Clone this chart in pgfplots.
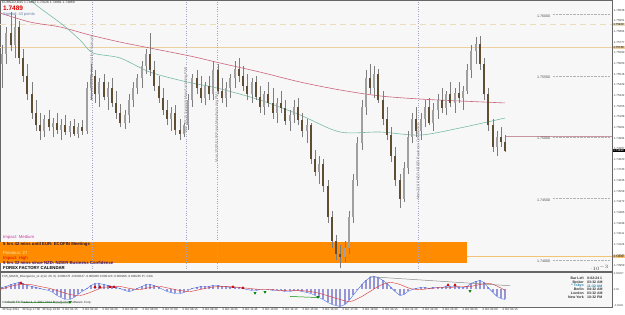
\documentclass[border=0pt]{standalone}
\usepackage{fontspec}
\setmainfont{Liberation Sans}
\usepackage{pgfplots}
\pgfplotsset{compat=1.18}
\usepackage{pgfplotstable}

\definecolor{candup}{RGB}{160,160,160}
\definecolor{canddown}{RGB}{95,78,52}
\definecolor{wick}{RGB}{125,125,125}
\definecolor{maRed}{RGB}{205,100,125}
\definecolor{maTeal}{RGB}{120,190,165}
\definecolor{calOrange}{RGB}{255,140,0}
\definecolor{tanDash}{RGB}{235,222,190}
\definecolor{tanSolid}{RGB}{238,208,160}
\definecolor{pinkLine}{RGB}{200,150,160}
\definecolor{oraLine}{RGB}{245,195,120}
\definecolor{histBlue}{RGB}{150,150,215}
\definecolor{macdBlue}{RGB}{70,110,230}
\definecolor{sigRed}{RGB}{220,60,60}
\definecolor{newsLine}{RGB}{165,165,200}
\definecolor{bg}{RGB}{247,247,247}
\newcommand{\fs}[1]{\fontsize{#1}{#1}\selectfont}

\pgfplotstableread{
x o h l c m
2 1.7560 1.7575 1.7540 1.7568 0.00032
6 1.7568 1.7590 1.7560 1.7585 0.00048
11 1.7585 1.7602 1.7570 1.7575 0.0008
15 1.7575 1.7600 1.7565 1.7590 0.00096
19 1.7590 1.7595 1.7560 1.7565 0.00112
23 1.7565 1.7572 1.7545 1.7550 0.00096
27 1.7550 1.7560 1.7530 1.7535 0.00064
32 1.7535 1.7545 1.7515 1.7520 0.00048
36 1.7520 1.7530 1.7505 1.7510 0.00032
40 1.7510 1.7520 1.7498 1.7505 0.00016
44 1.7505 1.7518 1.7500 1.7515 0
49 1.7515 1.7522 1.7505 1.7508 -0.00016
53 1.7508 1.7516 1.7500 1.7512 -0.00048
57 1.7512 1.7520 1.7503 1.7506 -0.00096
61 1.7506 1.7515 1.7498 1.7510 -0.00128
65 1.7510 1.7518 1.7502 1.7504 -0.0016
70 1.7504 1.7513 1.7500 1.7509 -0.0016
74 1.7509 1.7515 1.7501 1.7503 -0.00128
78 1.7503 1.7512 1.7499 1.7508 -0.0008
82 1.7508 1.7514 1.7502 1.7505 -0.00032
87 1.7505 1.7545 1.7503 1.7540 0.00016
91 1.7540 1.7560 1.7530 1.7550 0.00064
95 1.7550 1.7555 1.7528 1.7535 0.00096
99 1.7535 1.7548 1.7525 1.7545 0.00096
104 1.7545 1.7552 1.7530 1.7533 0.0008
108 1.7533 1.7545 1.7522 1.7540 0.00064
112 1.7540 1.7548 1.7525 1.7528 0.00048
116 1.7528 1.7538 1.7515 1.7520 0.00032
120 1.7520 1.7527 1.7508 1.7512 0.00016
125 1.7512 1.7522 1.7507 1.7518 -0.00016
129 1.7518 1.7535 1.7512 1.7530 -0.00032
133 1.7530 1.7545 1.7525 1.7540 -0.00016
137 1.7540 1.7552 1.7535 1.7548 0.00016
142 1.7548 1.7562 1.7540 1.7558 0.00048
146 1.7558 1.7572 1.7552 1.7568 0.0008
150 1.7568 1.7585 1.7550 1.7555 0.0008
154 1.7555 1.7562 1.7538 1.7542 0.00064
159 1.7542 1.7550 1.7528 1.7532 0.00032
163 1.7532 1.7540 1.7518 1.7522 0
167 1.7522 1.7530 1.7510 1.7515 -0.00032
171 1.7515 1.7525 1.7505 1.7520 -0.00048
175 1.7520 1.7526 1.7502 1.7506 -0.00064
180 1.7506 1.7515 1.7498 1.7503 -0.00064
184 1.7503 1.7512 1.7500 1.7510 -0.00048
188 1.7510 1.7535 1.7506 1.7530 -0.00016
192 1.7530 1.7552 1.7525 1.7548 0.00016
197 1.7548 1.7555 1.7535 1.7540 0.00032
201 1.7540 1.7550 1.7528 1.7532 0.00048
205 1.7532 1.7545 1.7526 1.7542 0.00048
209 1.7542 1.7550 1.7530 1.7535 0.00048
213 1.7535 1.7562 1.7530 1.7555 0.00064
218 1.7555 1.7560 1.7535 1.7538 0.00064
222 1.7538 1.7548 1.7528 1.7532 0.00048
226 1.7532 1.7545 1.7525 1.7540 0.00048
230 1.7540 1.7552 1.7532 1.7548 0.00032
235 1.7548 1.7562 1.7540 1.7556 0.00032
239 1.7556 1.7565 1.7545 1.7550 0.00032
243 1.7550 1.7558 1.7538 1.7542 0.00016
247 1.7542 1.7552 1.7530 1.7535 0
252 1.7535 1.7548 1.7528 1.7545 -0.00016
256 1.7545 1.7550 1.7530 1.7533 -0.00016
260 1.7533 1.7542 1.7520 1.7525 0
264 1.7525 1.7538 1.7518 1.7535 0
268 1.7535 1.7545 1.7525 1.7528 0
273 1.7528 1.7540 1.7515 1.7520 -0.00016
277 1.7520 1.7532 1.7512 1.7528 -0.00016
281 1.7528 1.7538 1.7520 1.7524 -0.00016
285 1.7524 1.7530 1.7510 1.7513 -0.00032
290 1.7513 1.7522 1.7505 1.7518 -0.00032
294 1.7518 1.7530 1.7512 1.7525 -0.00016
298 1.7525 1.7532 1.7510 1.7514 -0.00016
302 1.7514 1.7520 1.7500 1.7505 -0.00032
307 1.7505 1.7515 1.7495 1.7510 -0.00048
311 1.7510 1.7512 1.7478 1.7482 -0.00064
315 1.7482 1.7490 1.7468 1.7472 -0.00096
319 1.7472 1.7485 1.7462 1.7478 -0.00128
323 1.7478 1.7482 1.7455 1.7460 -0.0016
328 1.7460 1.7465 1.7430 1.7435 -0.00208
332 1.7435 1.7440 1.7410 1.7415 -0.0024
336 1.7415 1.7420 1.7400 1.7405 -0.00256
340 1.7405 1.7412 1.7393 1.7402 -0.00272
345 1.7402 1.7415 1.7398 1.7410 -0.0024
349 1.7410 1.7440 1.7405 1.7435 -0.00176
353 1.7435 1.7470 1.7430 1.7465 -0.00096
357 1.7465 1.7500 1.7460 1.7495 -0.00016
362 1.7495 1.7530 1.7490 1.7525 0.0008
366 1.7525 1.7555 1.7518 1.7548 0.00144
370 1.7548 1.7560 1.7535 1.7540 0.00192
374 1.7540 1.7558 1.7532 1.7552 0.00208
378 1.7552 1.7556 1.7528 1.7530 0.00192
383 1.7530 1.7538 1.7510 1.7515 0.00144
387 1.7515 1.7525 1.7498 1.7502 0.00096
391 1.7502 1.7508 1.7480 1.7485 0.00032
395 1.7485 1.7492 1.7460 1.7465 -0.00032
400 1.7465 1.7470 1.7442 1.7450 -0.00096
404 1.7450 1.7480 1.7447 1.7475 -0.0008
408 1.7475 1.7505 1.7470 1.7500 -0.00032
412 1.7500 1.7520 1.7495 1.7515 0
416 1.7515 1.7525 1.7500 1.7505 0.00016
421 1.7505 1.7520 1.7498 1.7515 0.00032
425 1.7515 1.7530 1.7508 1.7525 0.00032
429 1.7525 1.7532 1.7510 1.7512 0.00016
433 1.7512 1.7528 1.7505 1.7522 0.00032
438 1.7522 1.7535 1.7515 1.7530 0.00032
442 1.7530 1.7540 1.7520 1.7524 0.00032
446 1.7524 1.7538 1.7518 1.7535 0.00048
450 1.7535 1.7545 1.7525 1.7528 0.00048
455 1.7528 1.7540 1.7520 1.7536 0.00048
459 1.7536 1.7545 1.7528 1.7532 0.00032
463 1.7532 1.7542 1.7522 1.7538 0.00032
467 1.7538 1.7560 1.7535 1.7555 0.00048
471 1.7555 1.7575 1.7548 1.7570 0.00096
476 1.7570 1.7582 1.7560 1.7576 0.00128
480 1.7576 1.7583 1.7555 1.7560 0.00144
484 1.7560 1.7565 1.7530 1.7535 0.00112
488 1.7535 1.7540 1.7505 1.7510 0.00032
493 1.7510 1.7515 1.7488 1.7492 -0.00048
497 1.7492 1.7505 1.7485 1.7500 -0.00112
501 1.7500 1.7508 1.7492 1.7496 -0.00144
505 1.7496 1.7502 1.7488 1.7489 -0.0016
}\candles

\begin{document}
\begin{tikzpicture}
\useasboundingbox (0pt,0pt) rectangle (625pt,315pt);
\fill[white] (0pt,0pt) rectangle (625pt,315pt);
\fill[bg] (0pt,44pt) rectangle (612pt,315pt);
\fill[bg] (0pt,8pt) rectangle (612pt,43pt);
\begin{scope}
\clip (0pt,0pt) rectangle (625pt,315pt);
% ---------------- main price panel ----------------
\begin{axis}[
  at={(0pt,44pt)}, anchor=south west, scale only axis,
  width=612pt, height=271pt,
  xmin=0, xmax=612, ymin=1.73909, ymax=1.7612,
  clip mode=individual,
  axis line style={draw=black!60, line width=0.4pt},
  xtick=\empty,
  ytick={1.76038,1.75951,1.75864,1.75777,1.75690,1.75603,1.75516,1.75429,1.75342,1.75255,1.75168,1.75081,1.74994,1.74907,1.74820,1.74733,1.74646,1.74559,1.74472,1.74385,1.74298,1.74211,1.74124,1.74037,1.73950},
  ytick pos=right, yticklabel pos=right,
  tick align=outside, major tick length=1.3pt,
  tick style={black!60, line width=0.3pt},
  scaled y ticks=false,
  /pgf/number format/fixed, /pgf/number format/precision=5,
  /pgf/number format/fixed zerofill, /pgf/number format/assume math mode=true,
  yticklabel style={font=\fs{2.9}, text=black!75, inner sep=0.5pt},
]
% calendar box
\addplot[fill=calOrange, draw=none] coordinates {(0,1.73974) (467,1.73974) (467,1.74145) (0,1.74145)} -- cycle;
% horizontal levels
\addplot[tanDash, line width=0.9pt, dash pattern=on 6pt off 4pt] coordinates {(0,1.7592) (612,1.7592)};
\addplot[tanSolid, line width=0.7pt] coordinates {(0,1.7573) (612,1.7573)};
\addplot[pinkLine, line width=0.6pt] coordinates {(505,1.7501) (612,1.7501)};
\addplot[oraLine, line width=0.6pt] coordinates {(467,1.7403) (612,1.7403)};
\addplot[black!30, densely dotted, line width=0.4pt] coordinates {(553,1.7600) (610,1.7600)};
\addplot[black!30, densely dotted, line width=0.4pt] coordinates {(553,1.7550) (610,1.7550)};
\addplot[black!30, densely dotted, line width=0.4pt] coordinates {(553,1.7500) (610,1.7500)};
\addplot[black!30, densely dotted, line width=0.4pt] coordinates {(553,1.7450) (610,1.7450)};
\addplot[black!30, densely dotted, line width=0.4pt] coordinates {(553,1.7400) (610,1.7400)};
% news lines
\addplot[newsLine, dotted, line width=0.4pt] coordinates {(92,1.73909) (92,1.7612)};
\addplot[newsLine, dotted, line width=0.4pt] coordinates {(186,1.73909) (186,1.7612)};
\addplot[newsLine, dotted, line width=0.4pt] coordinates {(217,1.73909) (217,1.7612)};
\addplot[newsLine, dotted, line width=0.4pt] coordinates {(418,1.73909) (418,1.7612)};
% moving averages
\addplot[maRed, line width=0.6pt, smooth] coordinates {(0,1.76014) (30,1.7594) (60,1.7590) (90,1.75834) (120,1.75777) (150,1.75728) (190,1.75663) (220,1.75606) (260,1.75532) (300,1.75451) (340,1.75386) (380,1.75337) (420,1.75312) (460,1.75296) (505,1.7528)};
\addplot[maTeal, line width=0.6pt, smooth] coordinates {(0,1.76365) (30,1.7612) (63,1.75916) (80,1.75794) (93,1.75688) (120,1.75647) (150,1.75532) (187,1.75451) (217,1.75402) (260,1.75304) (300,1.75182) (340,1.75043) (380,1.75043) (420,1.75018) (460,1.75076) (505,1.75157)};
% candles: wicks
\addplot[draw=none, mark=none,
  error bars/.cd, y dir=plus, y explicit, error mark=none,
  error bar style={draw=wick, line width=0.5pt}]
  table[x=x, y=l, y error plus expr=\thisrow{h}-\thisrow{l}] {\candles};
% candles: up bodies
\addplot[draw=none, mark=none,
  x filter/.expression={\thisrow{c}>=\thisrow{o} ? \thisrow{x} : nan},
  error bars/.cd, y dir=plus, y explicit, error mark=none,
  error bar style={draw=candup, line width=1.8pt}]
  table[x=x, y=o, y error plus expr=\thisrow{c}-\thisrow{o}] {\candles};
% candles: down bodies
\addplot[draw=none, mark=none,
  x filter/.expression={\thisrow{c}<\thisrow{o} ? \thisrow{x} : nan},
  error bars/.cd, y dir=plus, y explicit, error mark=none,
  error bar style={draw=canddown, line width=1.8pt}]
  table[x=x, y=c, y error plus expr=\thisrow{o}-\thisrow{c}] {\candles};
% round-number labels
\node[anchor=west, font=\fs{3.6}, text=black!70, inner sep=0] at (axis cs:537,1.75988) {1.76000};
\node[anchor=west, font=\fs{3.6}, text=black!70, inner sep=0] at (axis cs:537,1.75488) {1.75500};
\node[anchor=west, font=\fs{3.6}, text=black!70, inner sep=0] at (axis cs:537,1.74988) {1.75000};
\node[anchor=west, font=\fs{3.6}, text=black!70, inner sep=0] at (axis cs:537,1.74488) {1.74500};
\node[anchor=west, font=\fs{3.6}, text=black!70, inner sep=0] at (axis cs:537,1.73988) {1.74000};
% news texts
\node[rotate=90, font=\fs{3.8}, text=black!50] at (axis cs:92,1.75565) {Mon 01:30 AUD Commodity Prices y/y};
\node[rotate=90, font=\fs{3.8}, text=black!50] at (axis cs:186,1.7530) {Mon 09:15 Spanish Manufacturing PMI};
\node[rotate=90, font=\fs{3.8}, text=black!50] at (axis cs:217,1.7508) {Mon 10:00 EUR Final Manufacturing PMI};
\node[rotate=90, font=\fs{3.8}, text=black!50] at (axis cs:418,1.7480) {Mon 22:00 NZD NZIER Business Confidence};
% price boxes on axis
\node[anchor=west, fill=tanDash, font=\fs{2.9}, inner sep=0.5pt, minimum width=12pt] at (axis cs:612.3,1.7592) {1.75920};
\node[anchor=west, fill=tanSolid, font=\fs{2.9}, inner sep=0.5pt, minimum width=12pt] at (axis cs:612.3,1.7573) {1.75730};
\node[anchor=west, fill=black, text=white, font=\fs{2.9}, inner sep=0.5pt, minimum width=12pt] at (axis cs:612.3,1.7489) {1.74890};
\node[anchor=west, fill=oraLine, font=\fs{2.9}, inner sep=0.5pt, minimum width=12pt] at (axis cs:612.3,1.7403) {1.74030};
\end{axis}
% ---------------- MACD panel ----------------
\begin{axis}[
  at={(0pt,8pt)}, anchor=south west, scale only axis,
  width=612pt, height=35pt,
  xmin=0, xmax=612, ymin=-0.0028, ymax=0.0028,
  clip mode=individual,
  axis line style={draw=black!60, line width=0.4pt},
  xtick={2,22,42,62,82,102,122,142,162,182,202,222,242,262,282,302,322,342,362,382,402,422,442,462,482,502},
  xticklabels={30 Sep 2011,30 Sep 17:30,30 Sep 19:45,3 Oct 01:15,3 Oct 02:30,3 Oct 03:30,3 Oct 04:45,3 Oct 06:00,3 Oct 07:00,3 Oct 08:15,3 Oct 09:30,3 Oct 10:45,3 Oct 11:45,3 Oct 13:00,3 Oct 14:15,3 Oct 15:30,3 Oct 16:30,3 Oct 17:45,3 Oct 19:00,3 Oct 20:15,3 Oct 21:15,3 Oct 22:30,3 Oct 23:45,4 Oct 00:45,4 Oct 02:00,4 Oct 03:15},
  xtick pos=bottom,
  xticklabel style={anchor=north west, font=\fs{3}, text=black!80, inner sep=0.4pt, xshift=-0.3pt},
  ytick={0.00257,0,-0.00257},
  yticklabels={0.00257,0.00,-0.0026},
  ytick pos=right, yticklabel pos=right,
  yticklabel style={font=\fs{2.7}, text=black!75, inner sep=0.4pt},
  tick align=outside, major tick length=1.3pt,
  tick style={black!60, line width=0.3pt},
]
\addplot[ycomb, histBlue, line width=1.7pt] table[x=x, y=m] {\candles};
\addplot[macdBlue, line width=0.4pt] table[x=x, y=m] {\candles};
\addplot[sigRed, line width=0.45pt, smooth] coordinates {(0,0) (10,0.00048) (20,0.0008) (30,0.0008) (40,0.00048) (50,0.00016) (60,-0.00032) (70,-0.0008) (80,-0.00096) (90,-0.00048) (100,0.00016) (110,0.00048) (120,0.00048) (130,0.00016) (140,0) (150,0.00032) (160,0.00048) (170,0.00016) (180,-0.00016) (190,-0.00032) (200,0) (210,0.00032) (220,0.00048) (230,0.00048) (240,0.00032) (250,0.00016) (260,0) (270,0) (280,-0.00016) (290,-0.00016) (300,-0.00016) (310,-0.00032) (320,-0.00064) (330,-0.00112) (340,-0.0016) (350,-0.00192) (360,-0.00128) (370,-0.00032) (380,0.00064) (390,0.00112) (400,0.0008) (410,0.00016) (420,0) (430,0.00016) (440,0.00032) (450,0.00032) (460,0.00048) (470,0.00048) (480,0.0008) (490,0.00096) (500,0.00032) (505,-0.00016)};
\addplot[green!55!black, line width=0.5pt] coordinates {(7,-0.002) (70,-0.00216)};
\addplot[green!55!black, line width=0.5pt] coordinates {(290,-0.00112) (318,-0.00128)};
\addplot[black!45, line width=0.5pt] coordinates {(370,0.00205) (510,0.0006)};
\addplot[only marks, mark=triangle*, mark size=1.3pt, red!80!black] coordinates {(21,0.00104) (95,0.0004) (100,0.0004) (110,0.0004) (114,0.0004) (233,0.0004) (243,0.00024) (448,0.00072) (455,0.00072)};
\addplot[only marks, mark=triangle*, mark size=1.3pt, mark options={rotate=180}, green!50!black] coordinates {(70,-0.002) (255,-0.00056) (265,-0.0004) (318,-0.0012) (470,-0.00024)};
\end{axis}
\end{scope}
% ---------------- texts ----------------
\node[anchor=west, font=\fs{3.3}, text=black!80, inner sep=0] at (2pt,312pt) {EURNZD,M15 1.74882 1.75026 1.74881 1.74889};
\node[anchor=west, font=\bfseries\fs{6.5}, text=red!85!black, inner sep=0] at (3pt,306.5pt) {1.7489};
\node[anchor=west, font=\fs{4}, text={rgb,255:red,100;green,130;blue,175}, inner sep=0] at (3pt,300.5pt) {Spread: 43 points};
% calendar
\node[anchor=west, font=\fs{4.3}, text={rgb,255:red,200;green,60;blue,160}, inner sep=0] at (3pt,78pt) {Impact: Medium};
\node[anchor=west, font=\bfseries\fs{4.3}, text={rgb,255:red,40;green,20;blue,60}, inner sep=0] at (3pt,71pt) {5 hrs 42 mins until EUR: ECOFIN Meetings};
\node[anchor=west, font=\fs{4.3}, text={rgb,255:red,255;green,232;blue,170}, inner sep=0] at (3pt,62pt) {Previous: 27};
\node[anchor=west, font=\fs{4.3}, text={rgb,255:red,225;green,0;blue,0}, inner sep=0] at (3pt,57pt) {Impact: High};
\node[anchor=west, font=\bfseries\fs{4.3}, text={rgb,255:red,60;green,20;blue,110}, inner sep=0] at (3pt,52pt) {5 hrs 32 mins since NZD: NZIER Business Confidence};
\node[anchor=west, font=\bfseries\fs{4.3}, text=black, inner sep=0] at (3pt,47pt) {FOREX FACTORY CALENDAR};
% MACD texts
\node[anchor=west, font=\fs{3}, text=black!80, inner sep=0] at (2pt,38pt) {FX5\_MACD\_Divergence\_v1.1(12, 26, 9) -0.000276 -0.000247 -0.000266 0.000120 -0.000296 -0.000245 Pr. Click};
\node[anchor=west, font=\fs{3.1}, text=black!80, inner sep=0] at (2pt,12pt) {Interbank FX Trader 4, \textcopyright{} 2001-2014 MetaQuotes Software Corp.};
% clock box
\node[anchor=east, font=\bfseries\fs{3.5}, text=black!80, inner sep=0] at (584pt,37pt) {Bar Left};
\node[anchor=west, font=\bfseries\fs{3.5}, text=black!80, inner sep=0] at (587pt,37pt) {0:02:24 1};
\node[anchor=east, font=\bfseries\fs{3.5}, text=black!80, inner sep=0] at (584pt,33pt) {Broker};
\node[anchor=west, font=\bfseries\fs{3.5}, text=black!80, inner sep=0] at (587pt,33pt) {03:32 AM};
\node[anchor=east, font=\bfseries\fs{3.5}, text={rgb,255:red,40;green,130;blue,170}, inner sep=0] at (584pt,29pt) {* Tokyo};
\node[anchor=west, font=\bfseries\fs{3.5}, text={rgb,255:red,40;green,130;blue,170}, inner sep=0] at (587pt,29pt) {11:32 AM};
\node[anchor=east, font=\bfseries\fs{3.5}, text=black!80, inner sep=0] at (584pt,25.5pt) {Berlin};
\node[anchor=west, font=\bfseries\fs{3.5}, text=black!80, inner sep=0] at (587pt,25.5pt) {04:32 AM};
\node[anchor=east, font=\bfseries\fs{3.5}, text=black!80, inner sep=0] at (584pt,22pt) {London};
\node[anchor=west, font=\bfseries\fs{3.5}, text=black!80, inner sep=0] at (587pt,22pt) {03:32 AM};
\node[anchor=east, font=\bfseries\fs{3.5}, text=black!80, inner sep=0] at (584pt,18pt) {New York};
\node[anchor=west, font=\bfseries\fs{3.5}, text=black!80, inner sep=0] at (587pt,18pt) {10:32 PM};
\end{tikzpicture}
\end{document}
